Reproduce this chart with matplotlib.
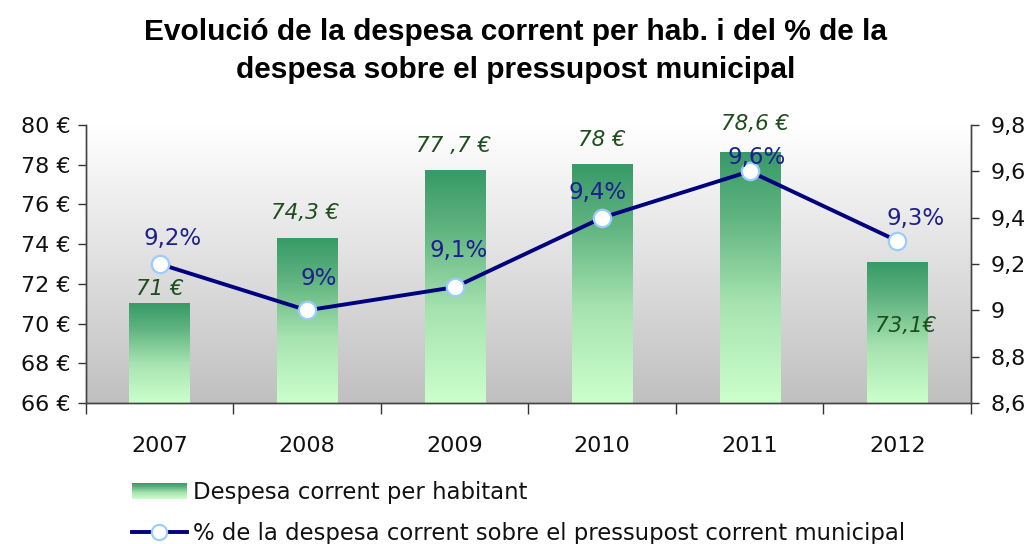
"""
Despesa corrent per habitant (bars) i % sobre el pressupost municipal (line).
"""
import matplotlib
matplotlib.use("Agg")
import matplotlib.pyplot as plt
import numpy as np
from matplotlib.colors import LinearSegmentedColormap
from matplotlib.image import BboxImage
from matplotlib.lines import Line2D
from matplotlib.patches import Rectangle

# --- data ---
years = ["2007", "2008", "2009", "2010", "2011", "2012"]
despesa = [71.0, 74.3, 77.7, 78.0, 78.6, 73.1]
pct = [9.2, 9.0, 9.1, 9.4, 9.6, 9.3]
despesa_labels = ["71 €", "74,3 €", "77 ,7 €", "78 €", "78,6 €", "73,1€"]
pct_labels = ["9,2%", "9%", "9,1%", "9,4%", "9,6%", "9,3%"]
left_ticks = [66, 68, 70, 72, 74, 76, 78, 80]
right_ticks = [8.6, 8.8, 9.0, 9.2, 9.4, 9.6, 9.8]
right_tick_labels = ["8,6", "8,8", "9", "9,2", "9,4", "9,6", "9,8"]

# label offsets in pixels (dx, dy) - layout only
bar_label_offsets = [(0, 15), (-2, 25), (-1, 25), (0, 25), (5, 29), (8, -64)]
pct_label_offsets = [(13, 26), (11, 32), (4, 37), (-5, 25), (7, 14), (18, 22)]

DPI = 100
FONT = "DejaVu Sans"
TITLE_FONT = "Liberation Sans"
bar_cmap = LinearSegmentedColormap.from_list(
    "bar", [(0.0, "#379a68"), (0.25, "#5fb37f"), (0.6, "#a6e3b0"), (1.0, "#ccffcc")])
bg_cmap = LinearSegmentedColormap.from_list("bg", ["#ffffff", "#c0c0c0"])
grad = np.linspace(0, 1, 256).reshape(-1, 1)

fig = plt.figure(figsize=(10.31, 5.44), dpi=DPI)
ax = fig.add_axes([0.0834, 0.2592, 0.8584, 0.5110])
ax2 = ax.twinx()

x = np.arange(len(years))

# plot-area background gradient
ax.imshow(grad, cmap=bg_cmap, aspect="auto", extent=(0, 1, 0, 1),
          transform=ax.transAxes, zorder=0)

bars = ax.bar(x, despesa, width=0.41, color="none", zorder=2)
for b in bars:
    x0, top = b.get_x(), b.get_y() + b.get_height()
    ax.imshow(grad, cmap=bar_cmap, aspect="auto",
              extent=(x0, x0 + b.get_width(), 66, top), zorder=2)
ax.set_xlim(-0.5, len(years) - 0.5)
ax.set_ylim(66, 80)
ax2.set_ylim(8.6, 9.8)

for xi, v, lab, (dx, dy) in zip(x, despesa, despesa_labels, bar_label_offsets):
    ax.annotate(lab, (xi, v), xytext=(dx * 0.72, dy * 0.72), textcoords="offset points",
                ha="center", va="center", fontsize=15.5, style="italic",
                color="#1e4d1e", family=FONT, zorder=5)

ax2.plot(x, pct, color="#000080", lw=2.8, marker="o", markersize=12.5,
         markerfacecolor="white", markeredgecolor="#99ccff", markeredgewidth=1.6,
         zorder=4)
for xi, v, lab, (dx, dy) in zip(x, pct, pct_labels, pct_label_offsets):
    ax2.annotate(lab, (xi, v), xytext=(dx * 0.72, dy * 0.72), textcoords="offset points",
                 ha="center", va="center", fontsize=16.5, color="#1f1f8f",
                 family=FONT, zorder=5)

# axes styling
ax.set_yticks(left_ticks)
ax.set_yticklabels([f"{t} €" for t in left_ticks])
ax2.set_yticks(right_ticks)
ax2.set_yticklabels(right_tick_labels)
ax.set_xticks(x)
ax.set_xticklabels(years)
ax.set_xticks(np.arange(-0.5, len(years)), minor=True)
ax.tick_params(axis="x", which="major", length=0, pad=24, labelsize=16,
               labelcolor="#111111")
ax.tick_params(axis="x", which="minor", length=8, width=1, color="#333333",
               direction="out")
ax.tick_params(axis="y", length=6, width=1, color="#333333", pad=5,
               labelsize=16, labelcolor="#111111")
ax2.tick_params(axis="y", length=6, width=1, color="#333333", pad=8,
                labelsize=16, labelcolor="#111111")
for a in (ax, ax2):
    for lab in a.get_xticklabels() + a.get_yticklabels():
        lab.set_family(FONT)
    a.spines["top"].set_visible(False)
    for s in ("left", "right", "bottom"):
        a.spines[s].set_color("#444444")
        a.spines[s].set_linewidth(1)

fig.text(0.5, 1 - 40 / 544, "Evolució de la despesa corrent per hab. i del % de la",
         ha="center", va="baseline", fontsize=21.5, fontweight="bold",
         family=TITLE_FONT)
fig.text(0.5, 1 - 78 / 544, "despesa sobre el pressupost municipal",
         ha="center", va="baseline", fontsize=21.5, fontweight="bold",
         family=TITLE_FONT)

# legend
h_bar = Rectangle((0, 0), 1, 1, facecolor="#7cc894", edgecolor="none")
h_line = Line2D([], [], color="#000080", lw=2.8, marker="o", markersize=11,
                markerfacecolor="white", markeredgecolor="#99ccff",
                markeredgewidth=1.5)
leg = fig.legend([h_bar, h_line],
                 ["Despesa corrent per habitant",
                  "% de la despesa corrent sobre el pressupost corrent municipal"],
                 loc="upper left", bbox_to_anchor=(0.128, 1 - 481 / 544),
                 frameon=False, handlelength=2.4, labelspacing=0.8,
                 handletextpad=0.3, borderaxespad=0, borderpad=0,
                 prop={"family": FONT, "size": 16.4})
for t in leg.get_texts():
    t.set_color("#111111")

# overlay gradient on legend patch
fig.canvas.draw()
bb = leg.legend_handles[0].get_window_extent()
fig.add_artist(BboxImage(bb, data=grad, cmap=bar_cmap, zorder=10))

fig.savefig("out.png", dpi=DPI)
